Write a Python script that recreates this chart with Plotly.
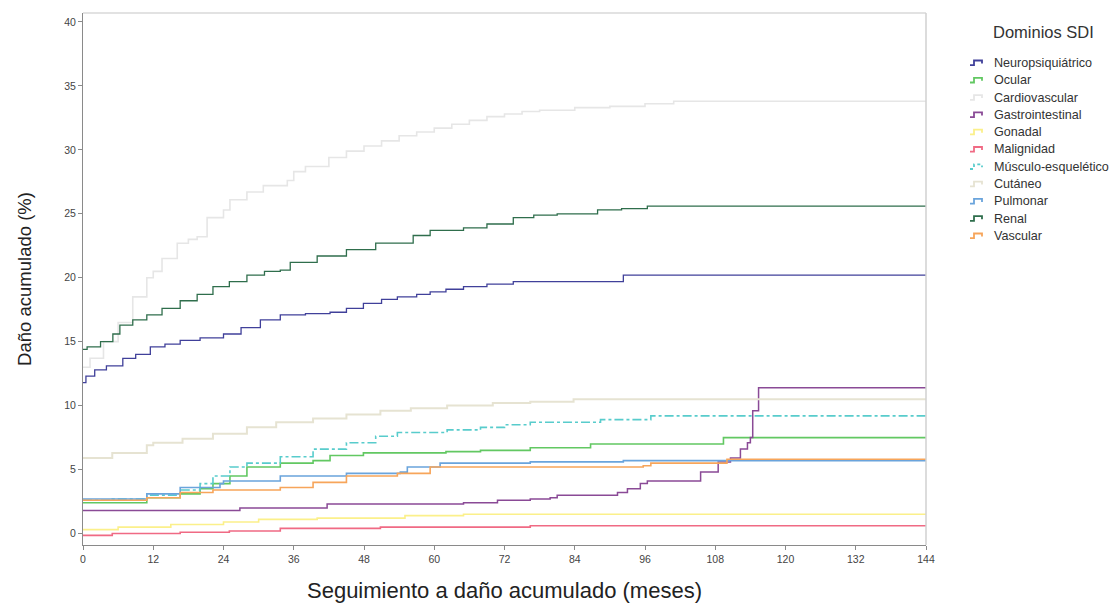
import plotly.graph_objects as go

# ---- data (months, cumulative damage %) ----
neuro_t = [0, 0.5, 2, 4, 6.8, 9, 11.5, 14, 16.6, 20, 24, 27, 30.3, 33.7, 38, 42.2, 45, 47.9, 51, 53.7, 57, 59.3, 62, 65, 69, 73.5, 85, 92.3, 144]
neuro_v = [11.8, 12.3, 12.8, 13.1, 13.7, 14.0, 14.6, 14.8, 15.1, 15.3, 15.6, 16.1, 16.7, 17.1, 17.2, 17.3, 17.6, 18.0, 18.3, 18.5, 18.7, 18.9, 19.1, 19.3, 19.5, 19.7, 19.7, 20.2, 20.2]

ocular_t = [0, 10.9, 16.6, 20, 22.2, 25.1, 28, 33.7, 39.3, 42.2, 47.9, 56.4, 62, 67.9, 76.4, 86.7, 109.4, 144]
ocular_v = [2.4, 2.8, 3.1, 3.5, 3.9, 4.5, 5.2, 5.5, 5.7, 6.1, 6.3, 6.3, 6.4, 6.5, 6.7, 7.0, 7.5, 7.5]

cardio_t = [0, 1.2, 3.5, 6, 8.5, 10.9, 12, 13.5, 16.1, 18, 19.5, 21.2, 24, 25.1, 28, 30.8, 34.9, 36, 38, 42, 45, 48, 51, 54, 57, 60, 63, 66, 69, 72, 75, 78, 84, 90, 96, 100.9, 144]
cardio_v = [13.0, 13.7, 15.0, 16.5, 18.5, 20.0, 20.5, 21.5, 22.7, 23.0, 23.2, 24.7, 25.3, 26.1, 26.7, 27.2, 27.6, 28.3, 28.7, 29.4, 29.9, 30.3, 30.7, 31.1, 31.4, 31.7, 32.0, 32.3, 32.6, 32.8, 33.0, 33.1, 33.3, 33.4, 33.6, 33.8, 33.8]

gastro_t = [0, 26.8, 41.7, 65, 70.8, 76.4, 79.8, 81, 91.3, 93, 95.2, 96.4, 105.5, 108.5, 110.6, 112.3, 113.5, 114, 114.4, 115.4, 144]
gastro_v = [1.8, 2.0, 2.3, 2.4, 2.6, 2.7, 2.8, 3.0, 3.2, 3.5, 3.9, 4.1, 4.8, 5.6, 5.9, 6.6, 7.1, 7.5, 9.6, 11.4, 11.4]

gonadal_t = [0, 6, 15, 24, 30, 40, 55, 65, 144]
gonadal_v = [0.3, 0.5, 0.7, 0.9, 1.1, 1.2, 1.4, 1.5, 1.5]

malig_t = [0, 5, 16.6, 25, 33.7, 50.8, 76.4, 144]
malig_v = [-0.15, 0.0, 0.1, 0.2, 0.4, 0.5, 0.6, 0.6]

musculo_t = [0, 5, 10.9, 16.6, 20, 22.2, 25.1, 28, 33.7, 39.3, 45, 50, 53.7, 62.2, 67.9, 72, 76.4, 88.4, 97, 144]
musculo_v = [2.6, 2.7, 3.0, 3.4, 3.9, 4.5, 5.2, 5.5, 6.0, 6.6, 7.1, 7.6, 7.9, 8.1, 8.3, 8.5, 8.7, 8.9, 9.2, 9.2]

cutaneo_t = [0, 5, 10.9, 12, 17, 22.2, 28, 33, 39.3, 45, 50.8, 56, 62.2, 70, 76.4, 83.8, 144]
cutaneo_v = [5.9, 6.3, 6.9, 7.1, 7.4, 7.8, 8.3, 8.7, 9.0, 9.3, 9.6, 9.8, 10.0, 10.2, 10.3, 10.5, 10.5]

pulmonar_t = [0, 10.9, 16.6, 23.4, 24, 33.7, 45, 54.2, 55.4, 61, 76.4, 92.3, 144]
pulmonar_v = [2.7, 3.1, 3.6, 3.9, 4.1, 4.5, 4.7, 4.8, 5.2, 5.5, 5.6, 5.7, 5.7]

renal_t = [0, 0.7, 3, 5.1, 6.3, 8.5, 10.9, 13.5, 16.6, 19.5, 22.2, 25, 28, 31, 33.7, 35.4, 40, 45, 50, 56.4, 59.3, 65, 69, 73.5, 77, 81, 87.9, 92, 96.4, 144]
renal_v = [14.4, 14.6, 15.0, 15.6, 16.3, 16.7, 17.1, 17.6, 18.2, 18.7, 19.3, 19.7, 20.2, 20.5, 20.6, 21.2, 21.7, 22.2, 22.7, 23.3, 23.7, 23.9, 24.2, 24.7, 24.9, 25.0, 25.3, 25.4, 25.6, 25.6]

vascular_t = [0, 10.9, 16.6, 22.2, 33.7, 39.3, 45, 53.7, 59.3, 95.7, 97, 110, 144]
vascular_v = [2.6, 2.8, 3.2, 3.4, 3.6, 4.0, 4.5, 4.7, 5.2, 5.3, 5.5, 5.8, 5.8]

x_ticks = [0, 12, 24, 36, 48, 60, 72, 84, 96, 108, 120, 132, 144]
y_ticks = [0, 5, 10, 15, 20, 25, 30, 35, 40]

legend_title = "Dominios SDI"

series = [
    ("Neuropsiquiátrico", neuro_t, neuro_v, "#40409a", "solid", 1.3),
    ("Ocular", ocular_t, ocular_v, "#62c862", "solid", 1.6),
    ("Cardiovascular", cardio_t, cardio_v, "#e6e6e6", "solid", 1.6),
    ("Gastrointestinal", gastro_t, gastro_v, "#8a4a96", "solid", 1.5),
    ("Gonadal", gonadal_t, gonadal_v, "#fbf08a", "solid", 1.6),
    ("Malignidad", malig_t, malig_v, "#f06a84", "solid", 1.6),
    ("Músculo-esquelético", musculo_t, musculo_v, "#58cccc", "dashdot", 1.6),
    ("Cutáneo", cutaneo_t, cutaneo_v, "#e6e3d2", "solid", 2.0),
    ("Pulmonar", pulmonar_t, pulmonar_v, "#6aa4dc", "solid", 1.6),
    ("Renal", renal_t, renal_v, "#2f6e4c", "solid", 1.3),
    ("Vascular", vascular_t, vascular_v, "#f7a55a", "solid", 1.6),
]

# the page body has an 8px margin: the figure is sized/margined to compensate
OFF = 8
W, H = 1112, 597
ML, MR, MT, MB = 75, 194, 5, 60
PW, PH = W - ML - MR, H - MT - MB


def px(xs):
    # screen x (px) -> paper x
    return (xs - OFF - ML) / PW


def py(ys):
    # screen y (px) -> paper y
    return (H - MB - (ys - OFF)) / PH


fig = go.Figure()
for name, t, v, color, dash, w in series:
    fig.add_trace(go.Scatter(
        x=t, y=v, mode="lines", name=name, showlegend=False,
        line=dict(color=color, dash=dash, width=w, shape="hv"),
    ))

font_family = "Liberation Sans, Arial, sans-serif"

fig.update_layout(
    width=W, height=H,
    margin=dict(l=ML, r=MR, t=MT, b=MB),
    paper_bgcolor="white", plot_bgcolor="white",
    font=dict(family=font_family, color="#333333", size=11),
    showlegend=False,
    xaxis=dict(
        range=[0, 144], tickvals=x_ticks, ticktext=[str(t) for t in x_ticks],
        showgrid=False, zeroline=False, automargin=False,
        showline=True, linecolor="#8a8a8a", linewidth=1,
        ticks="outside", ticklen=4, tickcolor="#8a8a8a",
        tickfont=dict(size=10.5, color="#444444"),
        title=dict(text="Seguimiento a daño acumulado (meses)", font=dict(size=22, color="#222222"), standoff=19),
    ),
    yaxis=dict(
        range=[-0.9, 40.7], tickvals=y_ticks, ticktext=[str(t) for t in y_ticks],
        showgrid=False, zeroline=False, automargin=False,
        showline=True, linecolor="#8a8a8a", linewidth=1,
        ticks="outside", ticklen=4, tickcolor="#8a8a8a",
        tickfont=dict(size=10.5, color="#444444"),
        title=dict(text="Daño acumulado (%)", font=dict(size=18.5, color="#222222"), standoff=27),
    ),
)

# light frame on top and right
fig.add_shape(type="line", xref="paper", yref="paper", x0=0, x1=1, y0=1, y1=1,
              line=dict(color="#d8d8d8", width=1.5))
fig.add_shape(type="line", xref="paper", yref="paper", x0=1, x1=1, y0=0, y1=1,
              line=dict(color="#d0d0d0", width=1.5))

# custom legend (title, small step-shaped symbols and labels)
fig.add_annotation(xref="paper", yref="paper", x=px(1043), y=py(32),
                   text=legend_title, showarrow=False, xanchor="center", yanchor="middle",
                   font=dict(size=16.5, color="#333333"))
for i, (name, t, v, color, dash, w) in enumerate(series):
    yc = 63 + 17.3 * i
    pts = [(970, yc + 2.2), (974, yc + 2.2), (974, yc - 2.5), (982, yc - 2.5), (982, yc + 0.5)]
    path = "M " + " L ".join(f"{px(a):.5f},{py(b):.5f}" for a, b in pts)
    fig.add_shape(type="path", xref="paper", yref="paper", path=path,
                  line=dict(color=color, width=1.8, dash="dot" if dash != "solid" else "solid"))
    fig.add_annotation(xref="paper", yref="paper", x=px(992), y=py(yc),
                       text=name, showarrow=False, xanchor="left", yanchor="middle",
                       font=dict(size=12.6, color="#333333"))

fig.write_html("out.html")
